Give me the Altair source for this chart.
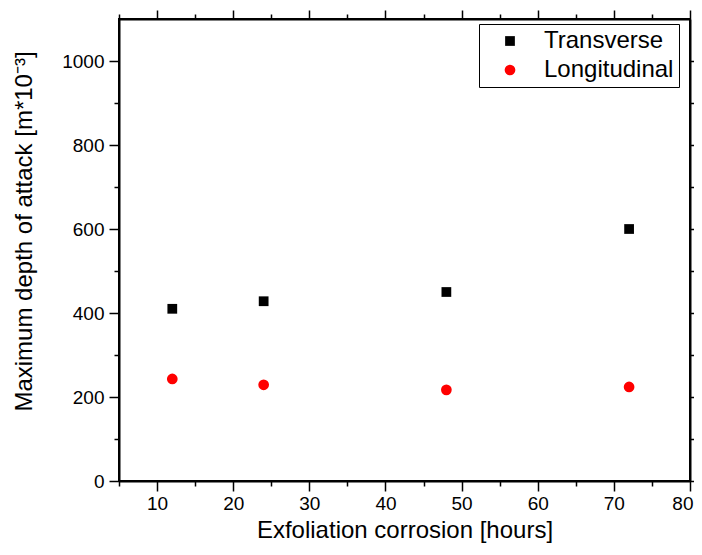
import altair as alt
import pandas as pd

hours = [12, 24, 48, 72]
transverse = [410, 428, 450, 600]
longitudinal = [243, 229, 217, 224]
series_names = ["Transverse", "Longitudinal"]

rows = []
for h, v in zip(hours, transverse):
    rows.append({"x": h, "y": v, "series": "Transverse"})
for h, v in zip(hours, longitudinal):
    rows.append({"x": h, "y": v, "series": "Longitudinal"})
df = pd.DataFrame(rows)

x_major = [10, 20, 30, 40, 50, 60, 70, 80]
x_minor = [5, 15, 25, 35, 45, 55, 65, 75]
y_major = [0, 200, 400, 600, 800, 1000]
y_minor = [100, 300, 500, 700, 900]

FONT = "Liberation Sans"
xscale = alt.Scale(domain=[5, 80], nice=False, zero=False)
yscale = alt.Scale(domain=[0, 1100], nice=False, zero=False)

common_axis = dict(domainColor="black", domainWidth=2, tickColor="black",
                   grid=False, labelFont=FONT, titleFont=FONT, labelColor="black",
                   titleColor="black")

points = alt.Chart(df).mark_point(filled=True, opacity=1).encode(
    x=alt.X("x:Q", scale=xscale,
            axis=alt.Axis(orient="bottom", values=x_major, tickSize=10, tickWidth=1.5,
                          format="d", labelFontSize=19, labelPadding=3,
                          labelFlush=True, labelFlushOffset=3,
                          title="Exfoliation corrosion [hours]", titleFontSize=24,
                          titleFontWeight="normal", titlePadding=5, **common_axis)),
    y=alt.Y("y:Q", scale=yscale,
            axis=alt.Axis(orient="left", values=y_major, tickSize=10, tickWidth=1.5,
                          format="d", labelFontSize=19, labelPadding=5, labelFlush=False,
                          title="Maximum depth of attack [m*10⁻³]", titleFontSize=24,
                          titleFontWeight="normal", titlePadding=25, titleY=212,
                          **common_axis)),
    color=alt.Color("series:N", scale=alt.Scale(domain=series_names, range=["black", "#ff0000"]),
                    legend=alt.Legend(title=None, orient="none", legendX=360, legendY=5,
                                      labelFont=FONT, labelFontSize=24, labelColor="black",
                                      strokeColor="black", padding=5,
                                      symbolOffset=14, labelOffset=22, rowPadding=5,
                                      symbolStrokeWidth=0)),
    shape=alt.Shape("series:N", scale=alt.Scale(domain=series_names, range=["square", "circle"])),
    size=alt.Size("series:N", scale=alt.Scale(domain=series_names, range=[95, 115])),
)

def ghost(xvals, yvals, tick, xorient, yorient, domain):
    return alt.Chart(df).mark_point(opacity=0).encode(
        x=alt.X("x:Q", scale=xscale,
                axis=alt.Axis(orient=xorient, values=xvals, tickSize=tick, tickWidth=1.5,
                              labels=False, title=None, domain=domain, **common_axis)),
        y=alt.Y("y:Q", scale=yscale,
                axis=alt.Axis(orient=yorient, values=yvals, tickSize=tick, tickWidth=1.5,
                              labels=False, title=None, domain=domain, **common_axis)),
    )

chart = alt.layer(
    points,
    ghost(x_major, y_major, 9, "top", "right", True),
    ghost(x_minor, y_minor, 5, "bottom", "left", False),
    ghost(x_minor, y_minor, 5, "top", "right", False),
).resolve_axis(x="independent", y="independent").properties(
    width=571, height=462,
    autosize=alt.AutoSizeParams(type="none"),
    padding={"left": 111, "top": 11, "right": 4, "bottom": 64},
).configure_view(stroke="black", strokeWidth=2).configure_legend(strokeWidth=1)

chart.save("out.html", embed_options={"renderer": "svg", "actions": False})
